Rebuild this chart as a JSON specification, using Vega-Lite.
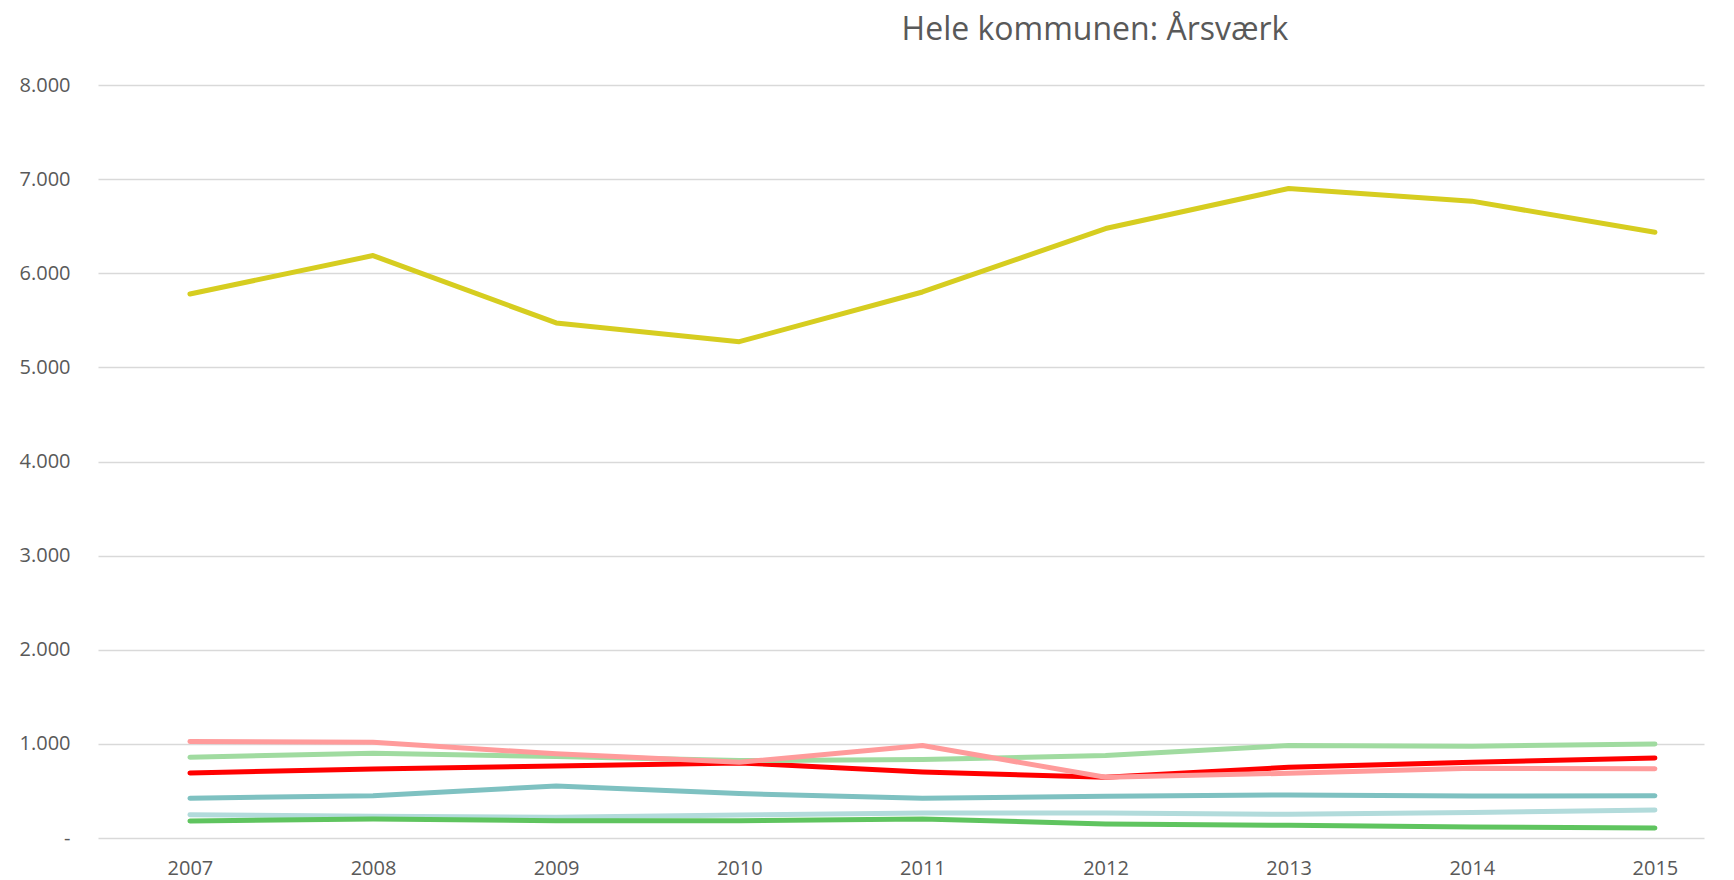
{
  "$schema": "https://vega.github.io/schema/vega-lite/v6.json",
  "autosize": "none",
  "width": 1606,
  "height": 753,
  "padding": {"left": 98, "top": 85, "right": 30, "bottom": 42},
  "background": "white",
  "title": {
    "text": "Hele kommunen: Årsværk",
    "font": "Open Sans",
    "fontSize": 32,
    "fontWeight": "normal",
    "color": "#595959",
    "anchor": "middle",
    "dx": 194,
    "dy": 40,
    "baseline": "alphabetic",
    "offset": 43
  },
  "datasets": {
    "rows": [
      {"serie": "Gruppe 1", "year": 2007, "value": 5780},
      {"serie": "Gruppe 1", "year": 2008, "value": 6188},
      {"serie": "Gruppe 1", "year": 2009, "value": 5472},
      {"serie": "Gruppe 1", "year": 2010, "value": 5273},
      {"serie": "Gruppe 1", "year": 2011, "value": 5801},
      {"serie": "Gruppe 1", "year": 2012, "value": 6475},
      {"serie": "Gruppe 1", "year": 2013, "value": 6901},
      {"serie": "Gruppe 1", "year": 2014, "value": 6766},
      {"serie": "Gruppe 1", "year": 2015, "value": 6436},
      {"serie": "Gruppe 6", "year": 2007, "value": 248},
      {"serie": "Gruppe 6", "year": 2008, "value": 230},
      {"serie": "Gruppe 6", "year": 2009, "value": 220},
      {"serie": "Gruppe 6", "year": 2010, "value": 245},
      {"serie": "Gruppe 6", "year": 2011, "value": 266},
      {"serie": "Gruppe 6", "year": 2012, "value": 266},
      {"serie": "Gruppe 6", "year": 2013, "value": 252},
      {"serie": "Gruppe 6", "year": 2014, "value": 270},
      {"serie": "Gruppe 6", "year": 2015, "value": 298},
      {"serie": "Gruppe 7", "year": 2007, "value": 181},
      {"serie": "Gruppe 7", "year": 2008, "value": 202},
      {"serie": "Gruppe 7", "year": 2009, "value": 184},
      {"serie": "Gruppe 7", "year": 2010, "value": 184},
      {"serie": "Gruppe 7", "year": 2011, "value": 202},
      {"serie": "Gruppe 7", "year": 2012, "value": 149},
      {"serie": "Gruppe 7", "year": 2013, "value": 135},
      {"serie": "Gruppe 7", "year": 2014, "value": 117},
      {"serie": "Gruppe 7", "year": 2015, "value": 106},
      {"serie": "Gruppe 5", "year": 2007, "value": 422},
      {"serie": "Gruppe 5", "year": 2008, "value": 450},
      {"serie": "Gruppe 5", "year": 2009, "value": 553},
      {"serie": "Gruppe 5", "year": 2010, "value": 472},
      {"serie": "Gruppe 5", "year": 2011, "value": 422},
      {"serie": "Gruppe 5", "year": 2012, "value": 443},
      {"serie": "Gruppe 5", "year": 2013, "value": 457},
      {"serie": "Gruppe 5", "year": 2014, "value": 447},
      {"serie": "Gruppe 5", "year": 2015, "value": 448},
      {"serie": "Gruppe 4", "year": 2007, "value": 691},
      {"serie": "Gruppe 4", "year": 2008, "value": 734},
      {"serie": "Gruppe 4", "year": 2009, "value": 766},
      {"serie": "Gruppe 4", "year": 2010, "value": 798},
      {"serie": "Gruppe 4", "year": 2011, "value": 702},
      {"serie": "Gruppe 4", "year": 2012, "value": 645},
      {"serie": "Gruppe 4", "year": 2013, "value": 752},
      {"serie": "Gruppe 4", "year": 2014, "value": 805},
      {"serie": "Gruppe 4", "year": 2015, "value": 850},
      {"serie": "Gruppe 3", "year": 2007, "value": 858},
      {"serie": "Gruppe 3", "year": 2008, "value": 901},
      {"serie": "Gruppe 3", "year": 2009, "value": 865},
      {"serie": "Gruppe 3", "year": 2010, "value": 823},
      {"serie": "Gruppe 3", "year": 2011, "value": 833},
      {"serie": "Gruppe 3", "year": 2012, "value": 876},
      {"serie": "Gruppe 3", "year": 2013, "value": 982},
      {"serie": "Gruppe 3", "year": 2014, "value": 975},
      {"serie": "Gruppe 3", "year": 2015, "value": 998},
      {"serie": "Gruppe 2", "year": 2007, "value": 1025},
      {"serie": "Gruppe 2", "year": 2008, "value": 1018},
      {"serie": "Gruppe 2", "year": 2009, "value": 894},
      {"serie": "Gruppe 2", "year": 2010, "value": 805},
      {"serie": "Gruppe 2", "year": 2011, "value": 982},
      {"serie": "Gruppe 2", "year": 2012, "value": 645},
      {"serie": "Gruppe 2", "year": 2013, "value": 688},
      {"serie": "Gruppe 2", "year": 2014, "value": 741},
      {"serie": "Gruppe 2", "year": 2015, "value": 736}
    ]
  },
  "data": {"name": "rows"},
  "mark": {"type": "line", "strokeWidth": 5, "strokeCap": "round", "strokeJoin": "round"},
  "encoding": {
    "x": {
      "field": "year",
      "type": "quantitative",
      "scale": {"domain": [2006.498, 2015.268], "nice": false, "zero": false},
      "axis": {
        "title": null,
        "values": [2007, 2008, 2009, 2010, 2011, 2012, 2013, 2014, 2015],
        "format": "d",
        "grid": false,
        "domain": false,
        "ticks": false,
        "labelFont": "Open Sans",
        "labelFontSize": 20,
        "labelColor": "#595959",
        "labelPadding": 20
      }
    },
    "y": {
      "field": "value",
      "type": "quantitative",
      "scale": {"domain": [0, 8000], "nice": false},
      "axis": {
        "title": null,
        "values": [0, 1000, 2000, 3000, 4000, 5000, 6000, 7000, 8000],
        "labelExpr": "datum.value == 0 ? '-\u00a0\u00a0\u00a0' : replace(format(datum.value, ',d'), ',', '.')",
        "grid": true,
        "gridColor": "#D9D9D9",
        "gridWidth": 1.5,
        "domain": false,
        "ticks": false,
        "labelFont": "Open Sans",
        "labelFontSize": 20,
        "labelColor": "#595959",
        "labelPadding": 28
      }
    },
    "color": {
      "field": "serie",
      "type": "nominal",
      "scale": {
        "domain": ["Gruppe 1", "Gruppe 2", "Gruppe 3", "Gruppe 4", "Gruppe 5", "Gruppe 6", "Gruppe 7"],
        "range": ["#D6CD20", "#FF9B9B", "#A0DBA0", "#FF0000", "#7EC1C1", "#B2DBDB", "#5FC45F"]
      },
      "legend": null
    }
  },
  "config": {"view": {"stroke": null}}
}
